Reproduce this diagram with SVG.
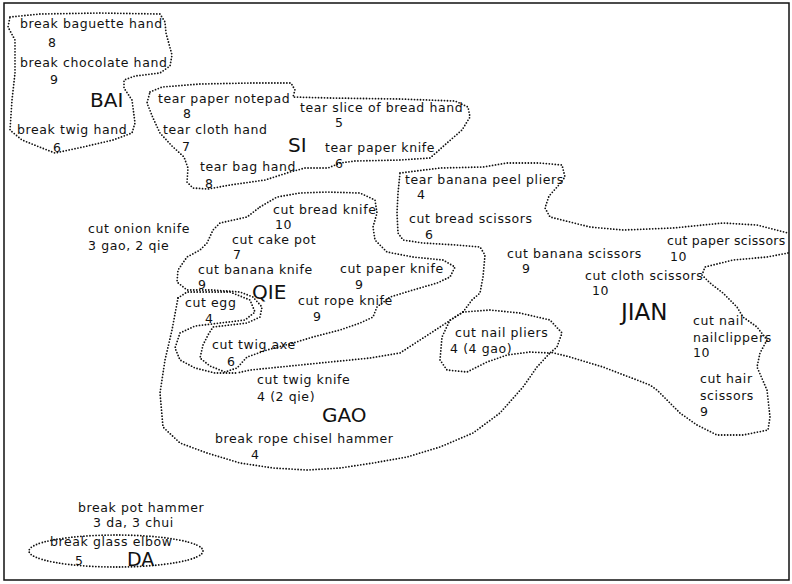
<svg xmlns="http://www.w3.org/2000/svg" width="792" height="584" viewBox="0 0 792 584">
<style>
.t{font-family:"DejaVu Sans",sans-serif;font-size:12.5px;letter-spacing:0.6px;fill:#111}
.big{font-family:"DejaVu Sans",sans-serif;font-size:20px;fill:#111}
.r{fill:none;stroke:#111;stroke-width:1.8;stroke-dasharray:0 3;stroke-linecap:round;stroke-linejoin:round}
</style>
<rect x="0" y="0" width="792" height="584" fill="#fff"/>
<rect x="4" y="3" width="785" height="577" fill="none" stroke="#111" stroke-width="1.5"/>
<g id="connectors">
<path id="bai-o" class="r" d="M10,17 L40,14 L100,13 L160,14 L165,22 L166,33 L172,55 L170,66 L160,73 L135,76 L124,80 L124,88 L132,100 L135,123 L132,133 L113,140 L83,147 L55,153 L42,148 L22,140 L10,130 L12,100 L15,73 L15,40 L8,27 Z"/>
<path id="si-o" class="r" d="M150,92 L162,87 L200,84 L250,83 L291,83 L295,90 L293,97 L330,98 L400,99 L455,101 L468,107 L470,117 L462,130 L447,143 L437,152 L430,158 L400,160 L355,161 L340,163 L328,168 L305,168 L290,172 L265,180 L230,185 L208,189 L193,188 L187,182 L188,168 L184,157 L172,146 L160,133 L153,118 L147,103 Z"/>
<path id="jian-o" class="r" d="M400,173 L440,168 L483,167 L507,163 L540,163 L562,165 L565,177 L558,186 L549,196 L545,208 L550,217 L590,227 L623,230 L673,228 L723,223 L757,225 L788,233 M788,253 L767,257 L733,260 L705,267 L702,275 L710,283 L723,293 L737,307 L743,317 L757,327 L767,340 L760,353 L757,367 L767,390 L770,417 L768,430 L743,435 L717,435 L697,425 L680,413 L670,403 L657,390 L650,385 L603,367 L570,357 L550,352 M463,312 L472,300 L480,293 L483,277 L485,255 L480,247 L457,245 L423,243 L403,240 L398,233 L397,213 L398,193 L400,173"/>
<path id="nail-o" class="r" d="M463,312 L490,310 L520,313 L550,320 L562,333 L557,347 L550,353 L530,352 L507,355 L487,362 L467,372 L447,370 L440,360 L442,337 L450,320 Z"/>
<path id="gao-o" class="r" d="M463,312 L440,327 L420,340 L400,353 L370,358 L330,362 L290,366 L250,370 L237,373 M178,298 L172,330 L165,360 L160,393 L163,427 L180,443 L207,453 L240,463 L273,468 L307,470 L340,468 L373,463 L407,457 L440,447 L473,433 L500,413 L523,387 L537,367 L550,353"/>
<path id="qie-o" class="r" d="M260,207 L277,197 L300,193 L327,192 L360,193 L375,200 L377,213 L373,227 L375,240 L387,252 L413,257 L443,260 L455,267 L450,277 L437,283 L413,290 L390,297 L377,307 L373,317 L360,323 L340,330 L313,337 L293,343 L267,350 L247,357 L237,368 L225,372 L210,366 L200,358 L203,345 L208,335 L213,327 L247,323 L260,317 L262,307 L253,297 L240,292 L213,290 L187,290 L177,282 L178,270 L187,257 L200,250 L207,243 L213,230 L220,223 L247,217 Z"/>
<path id="egg-o" class="r" d="M178,298 L187,292 L230,292 L250,300 L255,312 L245,320 L220,323 L195,326 L180,333 L175,348 L180,360 L195,368 L215,373 L237,373"/>
<ellipse id="da-o" class="r" cx="116" cy="551" rx="87" ry="16"/>
</g>
<g id="BAI">
<text class="t" x="20" y="28">break baguette hand</text><text class="t" x="48" y="47">8</text>
<text class="t" x="20" y="67">break chocolate hand</text><text class="t" x="50" y="84">9</text>
<text class="big" x="90" y="107">BAI</text>
<text class="t" x="17" y="134">break twig hand</text><text class="t" x="53" y="152">6</text>
</g>
<g id="SI">
<text class="t" x="158" y="103">tear paper notepad</text><text class="t" x="183" y="118">8</text>
<text class="t" x="300" y="112">tear slice of bread hand</text><text class="t" x="335" y="127">5</text>
<text class="t" x="163" y="134">tear cloth hand</text><text class="t" x="182" y="151">7</text>
<text class="big" x="288" y="152">SI</text>
<text class="t" x="325" y="152">tear paper knife</text><text class="t" x="335" y="168">6</text>
<text class="t" x="200" y="171">tear bag hand</text><text class="t" x="205" y="188">8</text>
</g>
<g id="JIAN">
<text class="t" x="405" y="184">tear banana peel pliers</text><text class="t" x="417" y="199">4</text>
<text class="t" x="409" y="223">cut bread scissors</text><text class="t" x="425" y="239">6</text>
<text class="t" x="507" y="258">cut banana scissors</text><text class="t" x="522" y="273">9</text>
<text class="t" x="667" y="245" style="letter-spacing:0.3px">cut paper scissors</text><text class="t" x="670" y="261">10</text>
<text class="t" x="585" y="280">cut cloth scissors</text><text class="t" x="592" y="295">10</text>
<text class="big" x="621" y="320" style="font-size:23px">JIAN</text>
<text class="t" x="693" y="325">cut nail</text><text class="t" x="693" y="342">nailclippers</text><text class="t" x="693" y="357">10</text>
<text class="t" x="700" y="383">cut hair</text><text class="t" x="700" y="400">scissors</text><text class="t" x="700" y="416">9</text>
</g>
<g id="NAIL">
<text class="t" x="455" y="337">cut nail pliers</text><text class="t" x="450" y="353">4 (4 gao)</text>
</g>
<g id="QIE">
<text class="t" x="273" y="214">cut bread knife</text><text class="t" x="275" y="229">10</text>
<text class="t" x="232" y="244">cut cake pot</text><text class="t" x="233" y="259">7</text>
<text class="t" x="198" y="274">cut banana knife</text><text class="t" x="198" y="289">9</text>
<text class="big" x="252" y="299">QIE</text>
<text class="t" x="340" y="273">cut paper knife</text><text class="t" x="355" y="289">9</text>
<text class="t" x="298" y="305">cut rope knife</text><text class="t" x="313" y="321">9</text>
<text class="t" x="185" y="307">cut egg</text><text class="t" x="205" y="323">4</text>
<text class="t" x="212" y="349">cut twig axe</text><text class="t" x="227" y="366">6</text>
</g>
<g id="ONION">
<text class="t" x="88" y="233">cut onion knife</text><text class="t" x="88" y="250">3 gao, 2 qie</text>
</g>
<g id="GAO">
<text class="t" x="257" y="384">cut twig knife</text><text class="t" x="257" y="401">4 (2 qie)</text>
<text class="big" x="322" y="422">GAO</text>
<text class="t" x="215" y="443">break rope chisel hammer</text><text class="t" x="251" y="459">4</text>
</g>
<g id="DA">
<text class="t" x="78" y="512">break pot hammer</text><text class="t" x="93" y="527">3 da, 3 chui</text>
<text class="t" x="50" y="546">break glass elbow</text><text class="t" x="75" y="565">5</text>
<text class="big" x="127" y="566" style="font-size:19px">DA</text>
</g>
</svg>
